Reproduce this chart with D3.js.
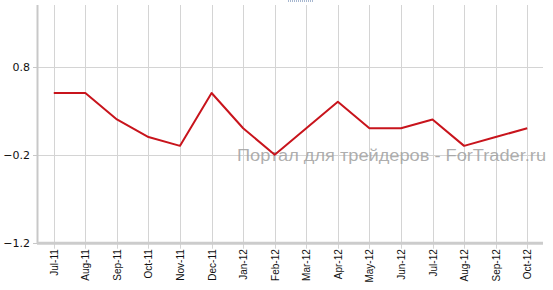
<!DOCTYPE html>
<html>
<head>
<meta charset="utf-8">
<script src="https://cdn.jsdelivr.net/npm/d3@7"></script>
<style>
  body { margin: 0; background: #fff; }
  #chart text { font-family: "DejaVu Sans", Verdana, sans-serif; }
</style>
</head>
<body>
<div id="chart"></div>
<script>
const months = ['Jul-11', 'Aug-11', 'Sep-11', 'Oct-11', 'Nov-11', 'Dec-11', 'Jan-12', 'Feb-12',
  'Mar-12', 'Apr-12', 'May-12', 'Jun-12', 'Jul-12', 'Aug-12', 'Sep-12', 'Oct-12'];
const values = [0.5, 0.5, 0.2, 0.0, -0.1, 0.5, 0.1, -0.2, 0.1, 0.4, 0.1, 0.1, 0.2, -0.1, 0.0, 0.1];
const yTicks = [-1.2, -0.2, 0.8];
const watermark = 'Портал для трейдеров - ForTrader.ru';

const width = 553, height = 290;
const plotLeft = 38, plotRight = 543, plotTop = 5, plotBottom = 242.7;

const svg = d3.select('#chart').append('svg')
  .attr('width', width)
  .attr('height', height);

const x = d3.scaleBand().domain(months).range([plotLeft, plotRight]);
const y = d3.scaleLinear().domain([-1.2, 1.5]).range([plotBottom, plotTop]);
const cx = d => x(d) + x.bandwidth() / 2;

// grid
svg.append('g')
  .selectAll('line')
  .data(yTicks)
  .join('line')
  .attr('x1', plotLeft).attr('x2', plotRight)
  .attr('y1', d => Math.round(y(d)) + 0.5).attr('y2', d => Math.round(y(d)) + 0.5)
  .attr('stroke', '#d4d4d4');

svg.append('g')
  .selectAll('line')
  .data(months)
  .join('line')
  .attr('x1', d => Math.round(cx(d)) + 0.5).attr('x2', d => Math.round(cx(d)) + 0.5)
  .attr('y1', plotTop).attr('y2', plotBottom + 6)
  .attr('stroke', '#d4d4d4');

// y axis
svg.append('line')
  .attr('x1', plotLeft - 0.5).attr('x2', plotLeft - 0.5)
  .attr('y1', plotTop).attr('y2', plotBottom + 1)
  .attr('stroke', '#c8c8c8').attr('stroke-width', 2);

svg.append('g')
  .selectAll('line')
  .data(yTicks)
  .join('line')
  .attr('x1', plotLeft - 5).attr('x2', plotLeft)
  .attr('y1', d => Math.round(y(d)) + 0.5).attr('y2', d => Math.round(y(d)) + 0.5)
  .attr('stroke', '#c8c8c8');

svg.append('g')
  .selectAll('text')
  .data(yTicks)
  .join('text')
  .attr('x', 30)
  .attr('y', d => y(d) + 4)
  .attr('text-anchor', 'end')
  .attr('font-size', 11)
  .attr('fill', '#111')
  .text(d3.format('.1f'));

// x axis
svg.append('line')
  .attr('x1', plotLeft - 1).attr('x2', plotRight)
  .attr('y1', plotBottom + 0.5).attr('y2', plotBottom + 0.5)
  .attr('stroke', '#cccccc').attr('stroke-width', 3);

svg.append('g')
  .selectAll('text')
  .data(months)
  .join('text')
  .attr('transform', d => `translate(${cx(d) + 4},${plotBottom + 6.5}) rotate(-90)`)
  .attr('text-anchor', 'end')
  .style('font-family', '"Liberation Sans", Arial, sans-serif')
  .attr('font-size', 10)
  .attr('fill', '#111')
  .text(d => d);

// watermark
svg.append('text')
  .attr('x', 237)
  .attr('y', 161)
  .style('font-family', '"Liberation Sans", Arial, sans-serif')
  .attr('font-size', 16)
  .attr('fill', '#a0a0a0')
  .attr('fill-opacity', 0.85)
  .attr('textLength', 309)
  .attr('lengthAdjust', 'spacingAndGlyphs')
  .text(watermark);

// line
const line = d3.line()
  .x((d, i) => cx(months[i]))
  .y(d => y(d));

svg.append('path')
  .datum(values)
  .attr('d', line)
  .attr('fill', 'none')
  .attr('stroke', '#c8141c')
  .attr('stroke-width', 2)
  .attr('stroke-linejoin', 'round');

// clipped link remnant at top
svg.append('line')
  .attr('x1', 288).attr('x2', 313)
  .attr('y1', 1).attr('y2', 1)
  .attr('stroke', '#5070a0')
  .attr('stroke-dasharray', '1,1');
</script>
</body>
</html>
